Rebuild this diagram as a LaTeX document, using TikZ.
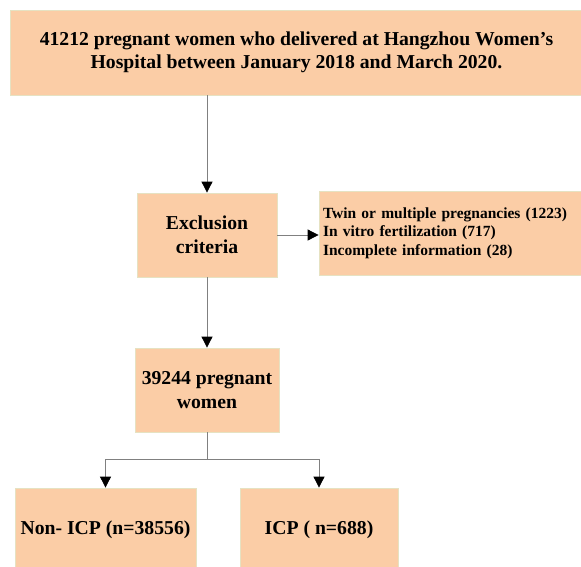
\documentclass[tikz,border=0pt]{standalone}
\usepackage{fontspec}
\setmainfont{Liberation Serif}
\usetikzlibrary{arrows.meta,positioning}
\definecolor{boxfill}{HTML}{FBCDA6}
\definecolor{boxline}{HTML}{E6E2C2}
\definecolor{linkgray}{HTML}{808080}
\tikzset{
  box/.style = {rectangle, fill=boxfill, draw=boxline, line width=0.8pt, inner sep=0pt, align=center, font=\bfseries\fontsize{19.7}{24}\selectfont},
  listbox/.style = {box, align=left, inner xsep=4pt, text width=256pt, font=\bfseries\fontsize{15.5}{18.5}\selectfont},
  link/.style = {draw=linkgray, line width=0.8pt, -{Triangle[black, width=11pt, length=11pt]}},
}

\begin{document}
\begin{tikzpicture}[x=1pt, y=-1pt]
\useasboundingbox (0,0) rectangle (581,566);
\node [box, minimum width=573pt, minimum height=85pt, font=\bfseries\fontsize{19.7}{23}\selectfont] (pop) at (296.5,52.5)
  {41212 pregnant women who delivered at Hangzhou Women’s\\Hospital between January 2018 and March 2020.};
\node [box, minimum width=140pt, minimum height=84pt] (excl) at (207,235) {Exclusion\\criteria};
\node [listbox, minimum height=84pt] (list) at (451,233)
  {Twin or multiple pregnancies (1223)\\In vitro fertilization (717)\\Incomplete information (28)};
\node [box, minimum width=144pt, minimum height=84pt] (women) at (207,390) {39244 pregnant\\women};
\node [box, minimum width=181pt, minimum height=84pt] (nonicp) at (105.5,530) {Non- ICP (n=38556)};
\node [box, minimum width=158pt, minimum height=84pt] (icp) at (319,530) {ICP ( n=688)};
\coordinate (fork) at (207,459);
\draw[link] (excl.north |- pop.south) -- (excl.north);
\draw[link] (excl.east) -- (excl.east -| list.west);
\draw[link] (excl) -- (women);
\draw[draw=linkgray, line width=0.8pt] (women) -- (fork);
\draw[link] (fork) -| (nonicp);
\draw[link] (fork) -| (icp);
\end{tikzpicture}
\end{document}
